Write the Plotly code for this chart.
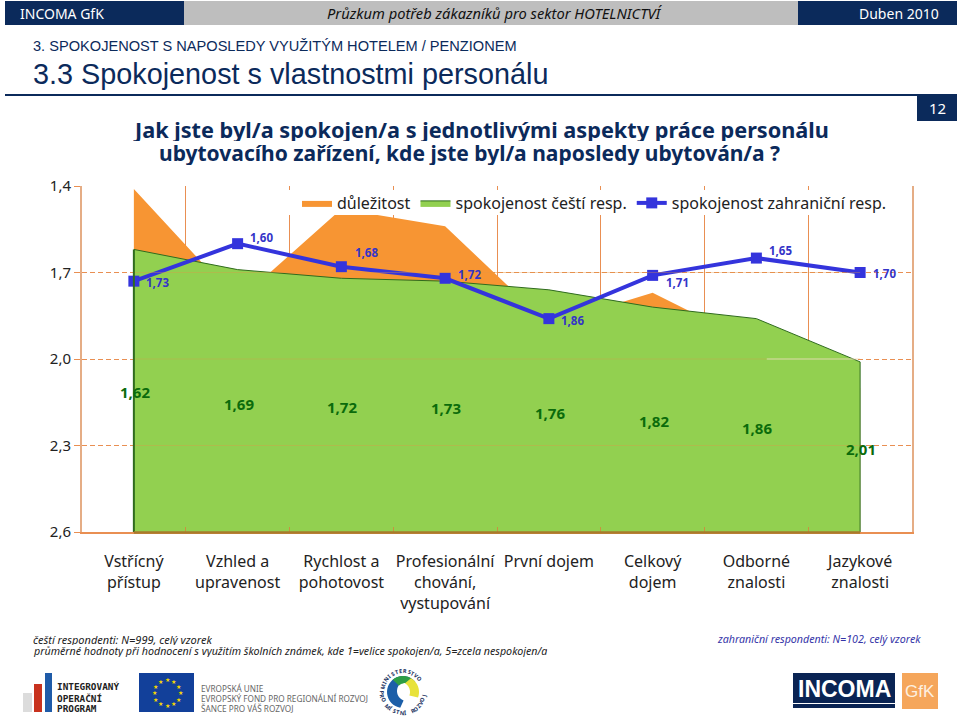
import math
import plotly.graph_objects as go

categories = ["Vstřícný<br>přístup", "Vzhled a<br>upravenost", "Rychlost a<br>pohotovost",
              "Profesionální<br>chování,<br>vystupování", "První dojem", "Celkový<br>dojem",
              "Odborné<br>znalosti", "Jazykové<br>znalosti"]
importance = [1.41, 1.80, 1.48, 1.54, 1.88, 1.77, 1.95, 2.10]
satisfaction_cz = [1.62, 1.69, 1.72, 1.73, 1.76, 1.82, 1.86, 2.01]
satisfaction_foreign = [1.73, 1.60, 1.68, 1.72, 1.86, 1.71, 1.65, 1.70]
y_ticks = [1.4, 1.7, 2.0, 2.3, 2.6]
names = ["důležitost", "spokojenost čeští resp.", "spokojenost zahraniční resp."]

cz_label_drop_px = [143, 134, 129, 127, 123, 114, 109, 87]
foreign_label_dx_px = [24, 24, 25, 24, 24, 25, 24, 24]
foreign_label_dy_px = [1, -6, -14, -4, 2, 7, -8, 1]

W, H = 960, 716
FONT = "Noto Sans"
NAVY = "#0B2A5B"
ORANGE = "#F79533"
GREEN = "#92D050"
DKGREEN = "#2F6B1E"
BLUE = "#3434DC"
GRID = "#E98F52"
AXIS = "#E5AD85"
y_bottom = max(y_ticks)

def px(x): return x / W
def py(y): return 1 - y / H

shapes, ann = [], []

def rect(x0, y0, x1, y1, color, layer="above"):
    shapes.append(dict(type="rect", xref="paper", yref="paper", x0=px(x0), x1=px(x1), y0=py(y0), y1=py(y1),
                       fillcolor=color, line_width=0, layer=layer))

def text(x, y, s, size, color="#222222", anchor="left", font=FONT, angle=0, height=None):
    ann.append(dict(xref="paper", yref="paper", x=px(x), y=py(y), text=s, showarrow=False,
                    xanchor=anchor, yanchor="middle", textangle=angle, borderpad=0, borderwidth=0, height=height,
                    font=dict(family=font, size=size, color=color)))

def path(points, color, close=True):
    d = "M " + " L ".join(f"{px(a):.5f} {py(b):.5f}" for a, b in points) + (" Z" if close else "")
    shapes.append(dict(type="path", xref="paper", yref="paper", path=d, fillcolor=color, line_width=0, layer="above"))

# header
rect(5, 1, 184, 25, NAVY)
rect(184, 1, 798, 25, "#BEBEBE")
rect(798, 1, 957, 25, NAVY)
text(20, 13, "INCOMA GfK", 14, "white")
text(495, 13, "<i>Průzkum potřeb zákazníků pro sektor HOTELNICTVÍ</i>", 14.7, "#111111", "center")
text(939, 13, "Duben 2010", 14, "white", "right")
text(33, 46, "3. SPOKOJENOST S NAPOSLEDY VYUŽITÝM HOTELEM / PENZIONEM", 14.6, NAVY, font="Liberation Sans")
text(33, 74, "3.3 Spokojenost s vlastnostmi personálu", 28.8, NAVY, font="Liberation Sans")
rect(5, 94, 957, 96, NAVY)
rect(917, 95, 957, 121, NAVY)
text(937, 108, "12", 15, "white", "center")
text(481, 129, "<b>Jak jste byl/a spokojen/a s jednotlivými aspekty práce personálu</b>", 21.7, NAVY, "center", height=24)
text(469, 153, "<b>ubytovacího zařízení, kde jste byl/a naposledy ubytován/a ?</b>", 21, NAVY, "center", height=24)

# legend backing
rect(189, 190, 905, 215, "white")

# faint gridlines showing through the fills
for t in y_ticks[1:-1]:
    shapes.append(dict(type="line", xref="x", yref="y", x0=0, x1=7, y0=t, y1=t,
                       line=dict(color="rgba(225,150,70,0.35)", width=1), layer="above"))
shapes.append(dict(type="line", xref="x", yref="y", x0=6.1, x1=6.95, y0=y_ticks[2], y1=y_ticks[2],
                   line=dict(color="rgba(255,255,255,0.55)", width=1), layer="above"))
shapes.append(dict(type="line", xref="x", yref="y", x0=1.32, x1=3.6, y0=y_ticks[1], y1=y_ticks[1],
                   line=dict(color="rgba(255,225,180,0.6)", width=1), layer="below"))
# green area side edges and brown foot
shapes.append(dict(type="line", xref="x", yref="y", x0=0, x1=0, y0=satisfaction_cz[0], y1=y_bottom,
                   line=dict(color=DKGREEN, width=2), layer="above"))
shapes.append(dict(type="line", xref="x", yref="y", x0=7, x1=7, y0=satisfaction_cz[-1], y1=y_bottom,
                   line=dict(color=DKGREEN, width=1), layer="above"))
shapes.append(dict(type="line", xref="x", yref="paper", x0=0, x1=7, y0=py(532.5), y1=py(532.5),
                   line=dict(color="#A87A2C", width=2.5), layer="above"))

# footer
text(33, 639, "<i>čeští respondenti: N=999, celý vzorek</i>", 11, "#222222", height=12)
text(33, 651, "<i>průměrné hodnoty při hodnocení s využitím školních známek, kde 1=velice spokojen/a, 5=zcela nespokojen/a</i>", 10.7, "#222222", height=12)
text(921, 639, "<i>zahraniční respondenti: N=102, celý vzorek</i>", 10.7, "#3434A8", "right")

# logos
rect(23, 693, 32, 712, "#DCDCDC")
rect(34, 684, 42, 712, "#C8321E")
rect(45, 673, 52, 712, "#1F5BA8")
for yy, s in zip((686, 698, 708), ("INTEGROVANÝ", "OPERAČNÍ", "PROGRAM")):
    text(57, yy, f"<b>{s}</b>", 9.4, "#222222", font="DejaVu Sans Mono")
rect(139, 673, 194, 712, "#12409A")
for k in range(12):
    a = 2 * math.pi * k / 12
    text(167 + 13 * math.sin(a), 692.5 - 13 * math.cos(a), "★", 6, "#F5D800", "center", font="DejaVu Sans")
for yy, s in zip((688, 698, 708), ("EVROPSKÁ UNIE", "EVROPSKÝ FOND PRO REGIONÁLNÍ ROZVOJ", "ŠANCE PRO VÁŠ ROZVOJ")):
    text(201, yy, s, 8.2, "#666666")
# ministry emblem
def arc(cx, cy, r, a0, a1, n=24):
    return [(cx + r * math.cos(math.radians(a0 + (a1 - a0) * i / n)),
             cy - r * math.sin(math.radians(a0 + (a1 - a0) * i / n))) for i in range(n + 1)]
cx, cy = 403, 692
path(arc(cx, cy, 16, 40, 260) + arc(cx + 4, cy - 1, 10, 250, 50), "#1C5FA8")
path(arc(cx, cy, 16, 60, 130) + arc(cx + 3, cy + 2, 11, 130, 60), "#2E9E45")
path(arc(cx, cy, 16, -20, 60) + arc(cx - 3, cy, 10, 60, -20), "#E8E23A")
for ch, a in zip("MINISTERSTVO", [165 - i * 11.5 for i in range(12)]):
    r = 21
    text(cx + r * math.cos(math.radians(a)), cy - r * math.sin(math.radians(a)), f"<b>{ch}</b>", 5.5, "#17305E", "center", angle=90 - a)
for ch, a in zip("PRO MÍSTNÍ ROZVOJ", [182 + i * 10.5 for i in range(17)]):
    r = 21
    text(cx + r * math.cos(math.radians(a)), cy - r * math.sin(math.radians(a)), f"<b>{ch}</b>", 5.5, "#17305E", "center", angle=270 - a)
rect(793, 673, 895, 703, "#0A2454")
rect(793, 704, 895, 708, "#0A2454")
text(844, 689, "<b>INCOMA</b>", 23, "white", "center", font="Liberation Sans")
rect(902, 673, 938, 709, "#F5A65B")
text(920, 691, "GfK", 17, "#FDF0E0", "center", font="Liberation Sans")

# data labels
for i, v in enumerate(satisfaction_cz):
    ann.append(dict(xref="x", yref="y", x=i, y=v, text=f"<b>{v:.2f}</b>".replace(".", ","), showarrow=False,
                    yshift=-cz_label_drop_px[i], xshift=1, font=dict(family=FONT, size=15, color="#0B6B0B")))
for i, v in enumerate(satisfaction_foreign):
    ann.append(dict(xref="x", yref="y", x=i, y=v, text=f"<b>{v:.2f}</b>".replace(".", ","), showarrow=False,
                    xshift=foreign_label_dx_px[i], yshift=-foreign_label_dy_px[i],
                    font=dict(family=FONT, size=11.5, color="#3434C8")))

baseline = [y_bottom] * len(categories)
fig = go.Figure()
fig.add_trace(go.Scatter(x=categories, y=baseline, mode="lines", line=dict(width=0), showlegend=False, hoverinfo="skip"))
fig.add_trace(go.Scatter(x=categories, y=importance, name=names[0], mode="lines", line=dict(width=0, color=ORANGE),
                         fill="tonexty", fillcolor=ORANGE))
fig.add_trace(go.Scatter(x=categories, y=baseline, mode="lines", line=dict(width=0), showlegend=False, hoverinfo="skip"))
fig.add_trace(go.Scatter(x=categories, y=satisfaction_cz, name=names[1], mode="lines", line=dict(width=1, color=DKGREEN),
                         fill="tonexty", fillcolor=GREEN))
fig.add_trace(go.Scatter(x=categories, y=satisfaction_foreign, name=names[2], mode="lines+markers",
                         line=dict(width=4, color=BLUE), marker=dict(symbol="square", size=11, color=BLUE),
                         cliponaxis=False))

fig.update_layout(
    width=W, height=H, autosize=False, margin=dict(l=0, r=0, t=0, b=0, pad=0, autoexpand=False),
    paper_bgcolor="white", plot_bgcolor="white", separators=",.",
    font=dict(family=FONT, size=16, color="#222222"),
    shapes=shapes, annotations=ann,
    legend=dict(orientation="h", x=px(297), y=py(203), xanchor="left", yanchor="middle",
                bgcolor="rgba(0,0,0,0)", font=dict(family=FONT, size=16, color="#222222"),
                itemwidth=30, traceorder="normal", itemclick=False, itemdoubleclick=False),
    xaxis=dict(domain=[px(82), px(912)], type="category", categoryorder="array", categoryarray=categories,
               range=[-0.5, 7.5], tickson="boundaries", ticks="inside", ticklen=5, tickcolor="#C9923F", tickwidth=1,
               showgrid=True, gridcolor=GRID, gridwidth=1, showline=True, linecolor=GRID, linewidth=2,
               layer="above traces", ticklabelstandoff=14, tickangle=0, tickfont=dict(family=FONT, size=16, color="#222222")),
    yaxis=dict(domain=[py(532), py(186)], range=[y_bottom, min(y_ticks)], tickmode="array", tickvals=y_ticks,
               ticktext=[f"{t:.1f}".replace(".", ",") for t in y_ticks], ticks="outside", ticklen=6, tickcolor=GRID,
               showgrid=True, gridcolor=GRID, griddash="5px,3px", gridwidth=1, zeroline=False,
               showline=True, linecolor=AXIS, linewidth=2, mirror=True, layer="above traces",
               tickfont=dict(family=FONT, size=15, color="#222222")),
)
fig.write_html("out.html", config={"displayModeBar": False},
               post_script="document.body.style.margin='0';document.documentElement.style.overflow='hidden';")
